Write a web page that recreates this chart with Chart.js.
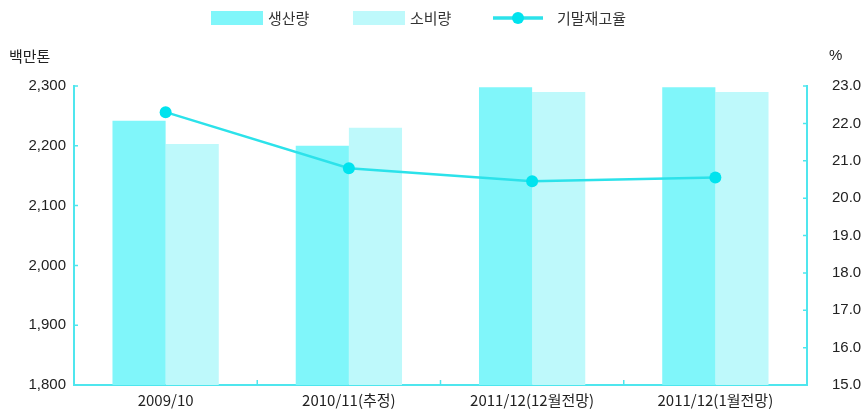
<!DOCTYPE html>
<html>
<head>
<meta charset="utf-8">
<script src="https://cdn.jsdelivr.net/npm/chart.js@4"></script>
<style>
  html, body { margin: 0; padding: 0; background: #fff; }
  #wrap { width: 868px; height: 414px; }
</style>
</head>
<body>
<div id="wrap"><canvas id="myChart" width="868" height="414"></canvas></div>
<script>
const categories = ['2009/10', '2010/11(추정)', '2011/12(12월전망)', '2011/12(1월전망)'];
const production = [2242, 2200, 2298, 2298];
const consumption = [2203, 2230, 2290, 2290];
const stockRatio = [22.3, 20.8, 20.45, 20.55];
const seriesNames = ['생산량', '소비량', '기말재고율'];
const leftTicks = [1800, 1900, 2000, 2100, 2200, 2300];
const rightTicks = [15, 16, 17, 18, 19, 20, 21, 22, 23];

const FONT = "'Liberation Sans', 'Noto Sans CJK KR', sans-serif";
const KFONT = "'Noto Sans CJK KR', 'Liberation Sans', sans-serif";
const barColor1 = '#80f6fa';
const barColor2 = '#bef9fb';
const lineColor = '#2ce2ea';
const pointColor = '#00e3ee';
const axisColor = '#4fe6ee';

// legend, axis unit titles and small inside tick marks
const decorPlugin = {
    id: 'decor',
    afterDraw(chart) {
        const ctx = chart.ctx;
        const area = chart.chartArea;
        ctx.save();

        // legend
        ctx.font = '15px ' + KFONT;
        ctx.textBaseline = 'middle';
        ctx.fillStyle = barColor1;
        ctx.fillRect(211, 11, 52, 14);
        ctx.fillStyle = '#333';
        ctx.fillText(seriesNames[0], 268, 18);
        ctx.fillStyle = barColor2;
        ctx.fillRect(353, 11, 52, 14);
        ctx.fillStyle = '#333';
        ctx.fillText(seriesNames[1], 410, 18);
        ctx.strokeStyle = lineColor;
        ctx.lineWidth = 3.5;
        ctx.beginPath();
        ctx.moveTo(493, 18);
        ctx.lineTo(543, 18);
        ctx.stroke();
        ctx.fillStyle = pointColor;
        ctx.beginPath();
        ctx.arc(518, 18, 6, 0, Math.PI * 2);
        ctx.fill();
        ctx.fillStyle = '#333';
        ctx.fillText(seriesNames[2], 557, 18);

        // unit titles
        ctx.fillStyle = '#222';
        ctx.fillText('백만톤', 9, 56);
        ctx.font = '15px ' + FONT;
        ctx.fillText('%', 829, 56);

        // inside tick marks
        ctx.strokeStyle = axisColor;
        ctx.lineWidth = 1.5;
        const y = chart.scales.y, y1 = chart.scales.y1, x = chart.scales.x;
        ctx.beginPath();
        y.ticks.forEach((t, i) => {
            const py = y.getPixelForTick(i);
            ctx.moveTo(area.left, py);
            ctx.lineTo(area.left + 4, py);
        });
        y1.ticks.forEach((t, i) => {
            const py = y1.getPixelForTick(i);
            ctx.moveTo(area.right, py);
            ctx.lineTo(area.right - 4, py);
        });
        for (let i = 1; i < categories.length; i++) {
            const px = (x.getPixelForValue(i - 1) + x.getPixelForValue(i)) / 2;
            ctx.moveTo(px, area.bottom);
            ctx.lineTo(px, area.bottom - 5);
        }
        ctx.stroke();
        ctx.restore();
    }
};

const ctx = document.getElementById('myChart').getContext('2d');
window.myChart = new Chart(ctx, {
    type: 'bar',
    data: {
        labels: categories,
        datasets: [
            {
                type: 'line',
                label: seriesNames[2],
                data: stockRatio,
                yAxisID: 'y1',
                borderColor: lineColor,
                borderWidth: 2.5,
                pointRadius: 6,
                pointBackgroundColor: pointColor,
                pointBorderWidth: 0,
                tension: 0,
                order: 0
            },
            {
                label: seriesNames[0],
                data: production,
                backgroundColor: barColor1,
                yAxisID: 'y',
                order: 1
            },
            {
                label: seriesNames[1],
                data: consumption,
                backgroundColor: barColor2,
                yAxisID: 'y',
                order: 1
            }
        ]
    },
    options: {
        responsive: false,
        animation: false,
        layout: { padding: { top: 86, left: 0, right: 0, bottom: 0 } },
        datasets: {
            bar: { barPercentage: 1, categoryPercentage: 0.58 }
        },
        plugins: {
            legend: { display: false },
            tooltip: { enabled: false }
        },
        scales: {
            x: {
                grid: { display: false, drawTicks: false },
                border: { color: axisColor, width: 2 },
                ticks: { color: '#222', font: { family: KFONT, size: 15 }, padding: 6, maxRotation: 0 },
                afterFit(scale) { scale.height = 29; }
            },
            y: {
                position: 'left',
                min: 1800,
                max: 2300,
                afterBuildTicks(scale) { scale.ticks = leftTicks.map(v => ({ value: v })); },
                grid: { display: false, drawTicks: false },
                border: { color: axisColor, width: 2 },
                ticks: {
                    color: '#222',
                    font: { family: FONT, size: 15 },
                    padding: 8,
                    callback: v => v.toLocaleString('en-US')
                },
                afterFit(scale) { scale.width = 74; }
            },
            y1: {
                position: 'right',
                min: 15,
                max: 23,
                afterBuildTicks(scale) { scale.ticks = rightTicks.map(v => ({ value: v })); },
                grid: { display: false, drawTicks: true, tickLength: 17 },
                border: { color: axisColor, width: 2 },
                ticks: {
                    color: '#222',
                    font: { family: FONT, size: 15 },
                    padding: 8,
                    callback: v => v.toFixed(1)
                },
                afterFit(scale) { scale.width = 61; }
            }
        }
    },
    plugins: [decorPlugin]
});
</script>
</body>
</html>
